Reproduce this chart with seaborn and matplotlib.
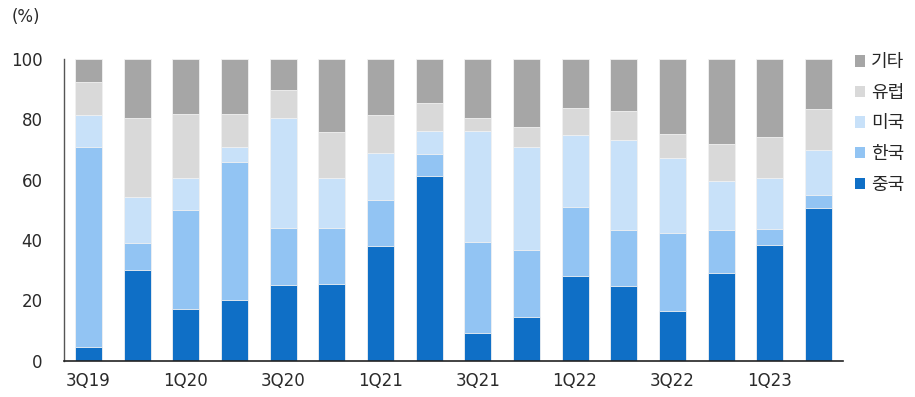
import matplotlib
matplotlib.use("Agg")
import matplotlib.pyplot as plt
from matplotlib.patches import Patch
import numpy as np
import pandas as pd
import seaborn as sns

quarters = ["3Q19", "4Q19", "1Q20", "2Q20", "3Q20", "4Q20", "1Q21", "2Q21",
            "3Q21", "4Q21", "1Q22", "2Q22", "3Q22", "4Q22", "1Q23", "2Q23"]

china  = [4.7, 30.1, 17.2, 20.2, 25.0, 25.6, 37.9, 61.1, 9.4, 14.6, 28.0, 24.8, 16.5, 29.1, 38.4, 50.7]
korea  = [66.1, 8.9, 32.6, 45.7, 18.9, 18.3, 15.3, 7.4, 29.9, 22.1, 22.9, 18.6, 25.9, 14.3, 5.3, 4.1]
usa    = [10.4, 15.2, 10.6, 5.0, 36.6, 16.7, 15.4, 7.4, 36.6, 34.2, 23.9, 29.6, 24.6, 16.2, 16.9, 15.0]
europe = [11.2, 26.3, 21.2, 10.9, 9.0, 15.1, 12.6, 9.5, 4.4, 6.4, 8.7, 9.6, 8.0, 12.1, 13.6, 13.6]
others = [7.6, 19.5, 18.4, 18.2, 10.5, 24.3, 18.8, 14.6, 19.7, 22.7, 16.5, 17.4, 25.0, 28.3, 25.8, 16.6]

series_names = ["중국", "한국", "미국", "유럽", "기타"]
series_values = [china, korea, usa, europe, others]
colors = ["#0F6FC6", "#92C4F3", "#C8E1F9", "#D9D9D9", "#A6A6A6"]

sns.set_style("white")
plt.rcParams["font.family"] = ["DejaVu Sans", "Noto Sans CJK KR"]
plt.rcParams["font.size"] = 12

df = pd.DataFrame(dict(zip(series_names, series_values)), index=quarters)
cum = df.cumsum(axis=1)

fig = plt.figure(figsize=(9.15, 3.97), dpi=100)
ax = fig.add_axes([0.070, 0.0907, 0.851, 0.7619])

# Overlay cumulative totals, tallest first, so each layer shows its own share
for name, color in reversed(list(zip(series_names, colors))):
    sns.barplot(x=quarters, y=cum[name].values, color=color, width=0.555,
                edgecolor="#F2F2F2", linewidth=0.6, saturation=1, ax=ax,
                order=quarters)

ax.set_xlim(-0.5, len(quarters) - 0.5)
ax.set_ylim(0, 100)
ax.set_yticks(np.arange(0, 101, 20))
ax.set_ylabel("")
ax.set_xlabel("")

# Tick marks at every second category boundary, labels under every second bar
boundaries = np.arange(-0.5, len(quarters), 2)
ax.set_xticks(boundaries)
ax.set_xticklabels([])
ax.set_xticks(np.arange(0, len(quarters), 2), minor=True)
ax.set_xticklabels(quarters[::2], minor=True)
ax.tick_params(axis="x", which="major", direction="out", length=5, width=1, color="#333333")
ax.tick_params(axis="x", which="minor", length=0, pad=8, labelsize=12, labelcolor="#2a2a2a")
ax.tick_params(axis="y", direction="out", length=5, width=1, color="#333333",
               labelsize=12, labelcolor="#2a2a2a", pad=10.5)

for side in ["top", "right"]:
    ax.spines[side].set_visible(False)
ax.spines["left"].set_color("#555555")
ax.spines["bottom"].set_color("#222222")
ax.spines["left"].set_linewidth(1)
ax.spines["bottom"].set_linewidth(1.2)

fig.text(0.013, 0.958, "(%)", fontsize=12, color="#2a2a2a", va="center", ha="left")

handles = [Patch(facecolor=c, edgecolor="none") for c in reversed(colors)]
labels = list(reversed(series_names))
fig.legend(handles, labels, loc="upper left", bbox_to_anchor=(0.934, 0.866),
           frameon=False, handlelength=0.6, handleheight=0.6, handletextpad=0.3,
           labelspacing=0.7, borderpad=0, borderaxespad=0,
           prop={"family": ["Noto Sans CJK KR"], "size": 13})

fig.savefig("out.png", dpi=100)
